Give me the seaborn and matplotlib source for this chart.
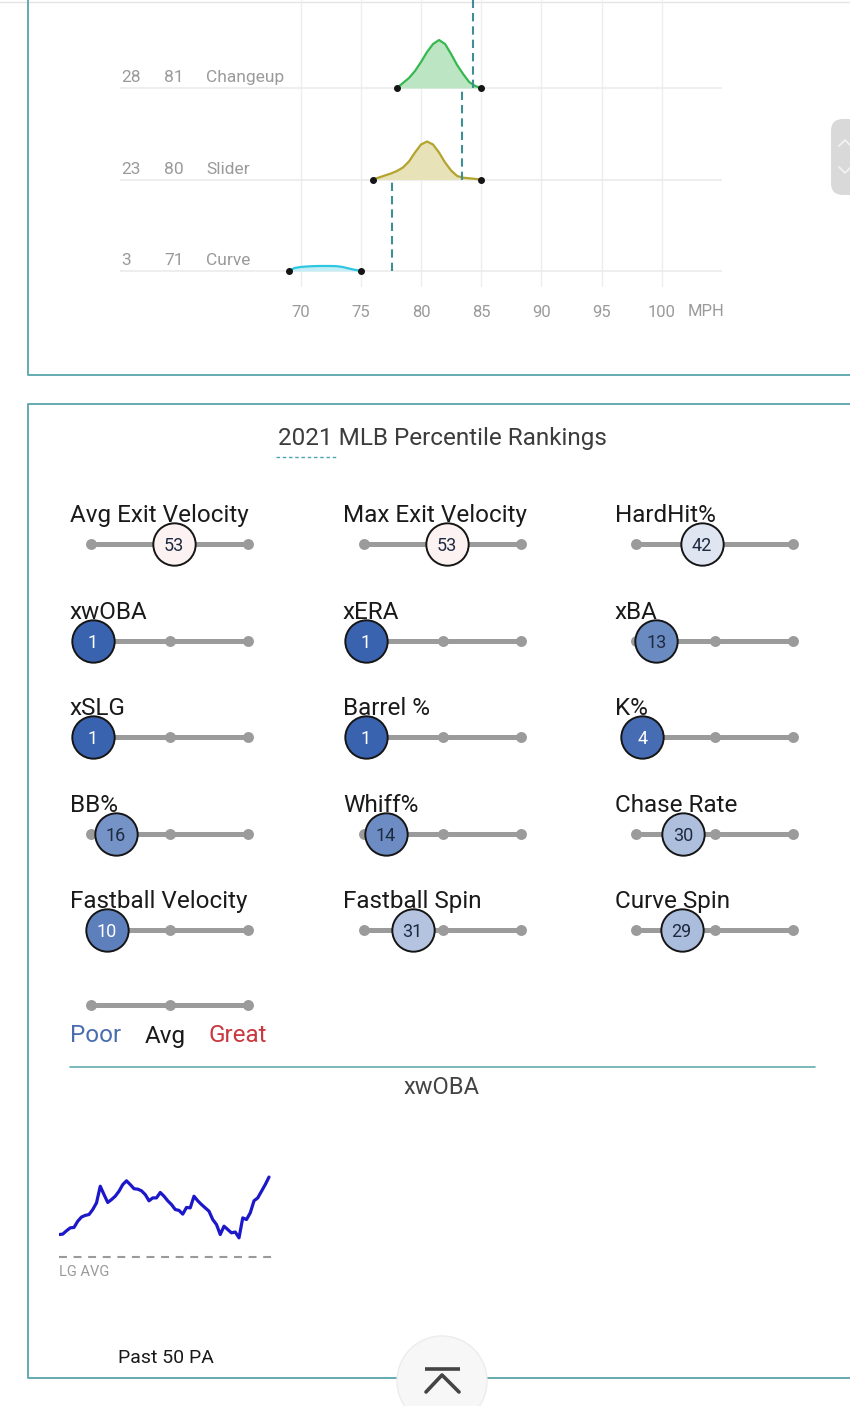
import numpy as np
import pandas as pd
import seaborn as sns
import matplotlib.pyplot as plt
from matplotlib.colors import LinearSegmentedColormap
from matplotlib.patches import Circle, FancyBboxPatch

W, H = 850, 1406

# pitch velocity distributions (rows from top to bottom)
pitch_names = ["Changeup", "Slider", "Curve"]
pitch_counts = [28, 23, 3]
pitch_avg_mph = [81, 80, 71]
pitch_line_colors = ["#36b850", "#b2a42c", "#2ec6e0"]
pitch_fill_colors = ["#bce6c3", "#e8e2b8", "#c4eef6"]
lg_avg_mph = [84.3, 83.4, 77.6]

changeup_mph = [78, 78.5, 79, 79.5, 80, 80.5, 81, 81.5, 82, 82.5, 83, 83.5, 84, 84.5, 85]
changeup_density = [0, 5, 10, 17, 26, 36, 44, 48, 44, 34, 23, 14, 6, 2, 0]
slider_mph = [76, 76.5, 77, 77.5, 78, 78.5, 79, 79.5, 80, 80.5, 81, 81.5, 82, 82.5, 83, 83.5, 84, 84.5, 85]
slider_density = [0, 2, 4, 6, 8.5, 12, 18, 27, 35, 38, 35, 27, 17, 9, 3.5, 1.8, 1.2, 0.6, 0]
curve_mph = [69, 69.5, 70, 70.5, 71, 71.5, 72, 72.5, 73, 73.5, 74, 74.5, 75]
curve_density = [0, 3, 4, 4.5, 4.8, 5, 5, 5, 4.8, 4, 2.5, 1.2, 0]

mph_ticks = [70, 75, 80, 85, 90, 95, 100]

# percentile rankings (row by row, three per row)
metric_names = ["Avg Exit Velocity", "Max Exit Velocity", "HardHit%",
                "xwOBA", "xERA", "xBA",
                "xSLG", "Barrel %", "K%",
                "BB%", "Whiff%", "Chase Rate",
                "Fastball Velocity", "Fastball Spin", "Curve Spin"]
metric_pct = [53, 53, 42,
              1, 1, 13,
              1, 1, 4,
              16, 14, 30,
              10, 31, 29]

legend_words = ["Poor", "Avg", "Great"]
legend_colors = ["#4a6db0", "#1a1a1a", "#c9383f"]

# rolling xwOBA, past 50 PA
xwoba_rolling = [.369, .370, .378, .385, .386, .401, .411, .415, .417, .429,
                 .445, .485, .465, .446, .453, .461, .473, .489, .498, .489,
                 .479, .478, .474, .465, .450, .457, .457, .470, .461, .450,
                 .441, .429, .427, .418, .434, .433, .461, .450, .441, .433,
                 .425, .405, .393, .369, .389, .381, .373, .375, .361, .409,
                 .405, .421, .450, .457, .473, .489, .507]
xwoba_lg_avg = 0.315

TEAL = "#64abb0"


def px_axes(fig, x0, y0, x1, y1):
    ax = fig.add_axes([x0 / W, 1 - y1 / H, (x1 - x0) / W, (y1 - y0) / H])
    ax.patch.set_alpha(0)
    return ax


def draw_track(ax):
    ax.plot([0, 100], [0, 0], color="#9b9b9b", lw=3.6, zorder=1)
    ax.scatter([0, 50, 100], [0, 0, 0], s=62, color="#9b9b9b", zorder=2, clip_on=False, linewidth=0)
    ax.set_xlim(0, 100)
    ax.set_ylim(-1, 1)
    ax.axis("off")


sns.set_theme(style="white")
plt.rcParams["font.family"] = ["Roboto", "DejaVu Sans"]

fig = plt.figure(figsize=(W / 100, H / 100), dpi=100)
fig.patch.set_facecolor("white")

# background canvas in pixel units for frames and free text
bg = fig.add_axes([0, 0, 1, 1])
bg.set_xlim(0, W)
bg.set_ylim(H, 0)
bg.axis("off")

# frames
bg.plot([0, W], [2, 2], color="#e4e4e4", lw=1)
bg.plot([28, 28, W], [0, 375, 375], color=TEAL, lw=1.4)
bg.plot([W, 28, 28, W], [404, 404, 1378, 1378], color=TEAL, lw=1.4)
bg.plot([70, 815], [1067, 1067], color=TEAL, lw=1.2)

# side scroll handle
bg.add_patch(FancyBboxPatch((831, 119), 40, 76, boxstyle="round,pad=0,rounding_size=12",
                            fc="#d9d9d9", ec="none"))
bg.plot([839, 845, 851], [146, 140, 146], color="#f4f4f4", lw=1.2)
bg.plot([839, 845, 851], [167, 173, 167], color="#f4f4f4", lw=1.2)

# ---- pitch velocity panel ----
ax = px_axes(fig, 120, 0, 722, 287)
n_rows = len(pitch_names)
dists = [(changeup_mph, changeup_density), (slider_mph, slider_density), (curve_mph, curve_density)]
for i, name in enumerate(pitch_names):
    row = n_rows - 1 - i
    mph, dens = dists[i]
    top = [row + d / 91.5 for d in dens]
    ax.axhline(row, color="#ebebeb", lw=1.2, zorder=1)
    ax.fill_between(mph, row, top, color=pitch_fill_colors[i], lw=0, zorder=2)
    sns.lineplot(x=mph, y=top, ax=ax, color=pitch_line_colors[i], lw=1.6, zorder=3, legend=False)
    ax.scatter([mph[0], mph[-1]], [row, row], s=16, color="#151515", zorder=5)
    ax.vlines(lg_avg_mph[i], row, row + 1, colors="#3f8e94", linestyles=(0, (4, 2.4)), lw=1.5, zorder=4)
    ax.text(55.1, row + 0.065, str(pitch_counts[i]), fontsize=12.5, color="#9a9a9a", va="baseline")
    ax.text(58.65, row + 0.065, str(pitch_avg_mph[i]), fontsize=12.5, color="#9a9a9a", va="baseline")
    ax.text(62.15, row + 0.065, name, fontsize=12.5, color="#9a9a9a", va="baseline")
ax.set_xlim(55, 105)
ax.set_ylim(-0.175, 2.962)
ax.set_xticks(mph_ticks)
ax.set_yticks([])
ax.grid(axis="x", color="#eeeeee", lw=1)
ax.grid(axis="y", visible=False)
ax.tick_params(axis="x", length=0, labelsize=12, labelcolor="#9a9a9a", pad=13)
ax.set_ylabel("")
for s in ax.spines.values():
    s.set_visible(False)
bg.text(688, 311, "MPH", fontsize=12, color="#9a9a9a", va="center")

# ---- percentile rankings panel ----
bg.text(442, 439, "2021 MLB Percentile Rankings", fontsize=17.5, color="#3c3c3c", ha="center", va="center")
bg.plot([276, 338], [457, 457], color="#4aa5b2", lw=1, linestyle=(0, (2.5, 2)))

pct_cmap = LinearSegmentedColormap.from_list("savant", ["#3661ad", "#ffffff", "#d82129"])
col_x = [91, 364, 636]
row_y = [544, 641, 737, 834, 930]
track_len = 157

for i, (name, pct) in enumerate(zip(metric_names, metric_pct)):
    r, c = divmod(i, 3)
    x0, yc = col_x[c], row_y[r]
    bg.text(x0 - 21, yc - 22, name, fontsize=17.5, color="#1a1a1a", va="baseline")
    pax = px_axes(fig, x0, yc - 25, x0 + track_len, yc + 25)
    draw_track(pax)
    pax.scatter([pct], [0], s=930, color=pct_cmap(pct / 100), edgecolor="#151515",
                linewidth=1.4, zorder=5, clip_on=False)
    pax.text(pct, 0, str(pct), fontsize=13, ha="center", va="center_baseline", zorder=6,
             color="white" if pct <= 10 else "#1e2a40")

# legend
lax = px_axes(fig, 91, 980, 91 + track_len, 1030)
draw_track(lax)
for word, color, x in zip(legend_words, legend_colors, [70, 145, 209]):
    bg.text(x, 1036, word, fontsize=17.5, color=color, va="center")

# ---- rolling xwOBA sparkline ----
bg.text(442, 1087, "xwOBA", fontsize=17, color="#444444", ha="center", va="center")
spark = pd.DataFrame({"pa": np.arange(len(xwoba_rolling)), "xwoba": xwoba_rolling})
sax = px_axes(fig, 59, 1165, 273, 1262)
sns.lineplot(data=spark, x="pa", y="xwoba", ax=sax, color="#1c17c9", lw=2.3, legend=False)
sax.axhline(xwoba_lg_avg, color="#9a9a9a", lw=1.5, linestyle=(0, (3.8, 3.2)))
sax.set_xlim(0, (len(xwoba_rolling) - 1) * 214 / 210)
sax.set_ylim(0.303, 0.536)
sax.axis("off")
bg.text(59, 1272, "LG AVG", fontsize=10.5, color="#9a9a9a", va="center")
bg.text(118, 1358, "Past 50 PA", fontsize=14, color="#1a1a1a", va="center")

# scroll-to-top button
bg.add_patch(Circle((442, 1381), 45, fc="#f7f7f7", ec="#ececec", lw=1, zorder=5))
bg.plot([425, 460], [1369, 1369], color="#444444", lw=2.6, zorder=6, solid_capstyle="butt")
bg.plot([426, 442, 459], [1392, 1375, 1392], color="#444444", lw=2.6, zorder=6)

fig.savefig("out.png", dpi=100)
